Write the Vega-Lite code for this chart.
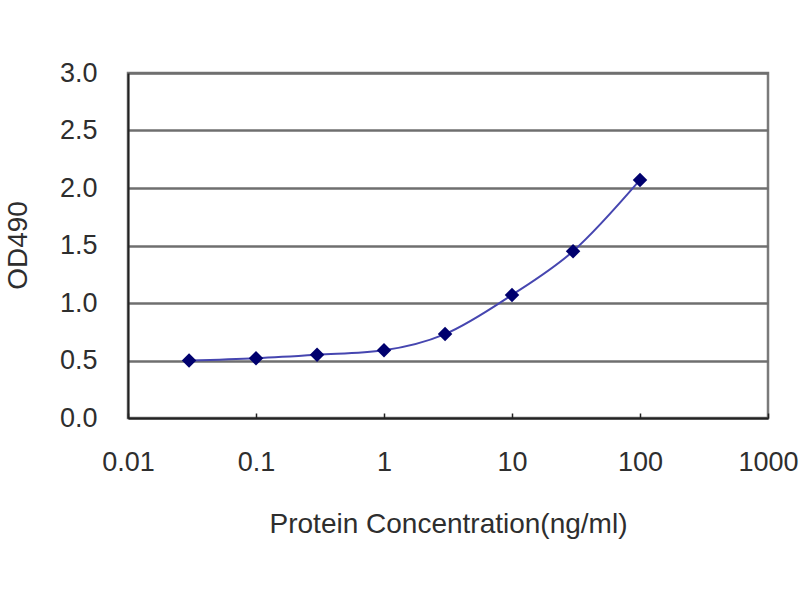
{
  "$schema": "https://vega.github.io/schema/vega-lite/v6.json",
  "autosize": "none",
  "padding": {"left": 128, "top": 73, "right": 32, "bottom": 182},
  "width": 640,
  "height": 345,
  "background": "white",
  "data": {
    "values": [
      {"conc": 0.03, "od": 0.50},
      {"conc": 0.1, "od": 0.52},
      {"conc": 0.3, "od": 0.55},
      {"conc": 1, "od": 0.59},
      {"conc": 3, "od": 0.73},
      {"conc": 10, "od": 1.07},
      {"conc": 30, "od": 1.45},
      {"conc": 100, "od": 2.07}
    ]
  },
  "encoding": {
    "x": {
      "field": "conc",
      "type": "quantitative",
      "scale": {"type": "log", "domain": [0.01, 1000], "nice": false},
      "axis": {
        "title": "Protein Concentration(ng/ml)",
        "values": [0.01, 0.1, 1, 10, 100, 1000],
        "format": "~g",
        "grid": false,
        "tickSize": -5,
        "tickColor": "#222",
        "tickWidth": 1.5,
        "labelPadding": 36,
        "titleY": 114,
        "titleBaseline": "alphabetic"
      }
    },
    "y": {
      "field": "od",
      "type": "quantitative",
      "scale": {"domain": [0, 3], "nice": false},
      "axis": {
        "title": "OD490",
        "values": [0, 0.5, 1, 1.5, 2, 2.5, 3],
        "format": ".1f",
        "grid": true,
        "gridColor": "#6f6f6f",
        "gridWidth": 2.5,
        "ticks": false,
        "labelPadding": 31,
        "titleX": -110,
        "titleY": 172,
        "titleBaseline": "middle",
        "titleAngle": -90
      }
    }
  },
  "layer": [
    {
      "mark": {"type": "line", "interpolate": "monotone", "color": "#4646b0", "strokeWidth": 2}
    },
    {
      "mark": {"type": "point", "shape": "diamond", "filled": true, "color": "#00006e", "size": 210, "opacity": 1}
    }
  ],
  "config": {
    "view": {"stroke": "#7a7a7a", "strokeWidth": 2.5},
    "axis": {
      "labelFont": "Liberation Sans",
      "titleFont": "Liberation Sans",
      "labelFontSize": 27,
      "titleFontSize": 28,
      "labelFontWeight": "normal",
      "titleFontWeight": "normal",
      "labelColor": "#2e2e2e",
      "titleColor": "#2e2e2e",
      "domainColor": "#222",
      "domainWidth": 2,
      "labelFlush": false,
      "labelOverlap": false
    }
  }
}
